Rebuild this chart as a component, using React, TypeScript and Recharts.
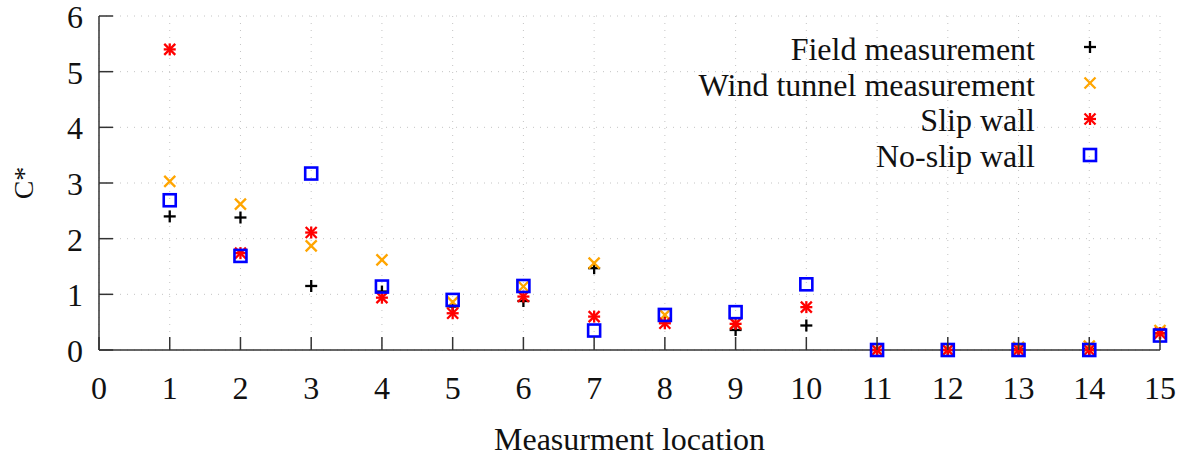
import React from 'react';
import { ScatterChart, Scatter, XAxis, YAxis, CartesianGrid, Legend } from 'recharts';

// measurement locations 1..15
const locations = [1, 2, 3, 4, 5, 6, 7, 8, 9, 10, 11, 12, 13, 14, 15];

const fieldValues = [2.4, 2.38, 1.15, 1.05, 0.78, 0.88, 1.47, 0.52, 0.36, 0.44, 0.0, 0.0, 0.01, 0.02, 0.3];
const windValues = [3.03, 2.62, 1.87, 1.62, 0.86, 1.14, 1.56, 0.63, 0.48, null, 0.0, 0.0, 0.05, 0.07, 0.35];
const slipValues = [5.4, 1.74, 2.11, 0.94, 0.66, 0.96, 0.6, 0.48, 0.47, 0.77, 0.0, 0.0, 0.0, 0.0, 0.3];
const noSlipValues = [2.69, 1.69, 3.17, 1.14, 0.9, 1.15, 0.35, 0.63, 0.68, 1.18, 0.0, 0.0, 0.0, 0.0, 0.26];

const xTicks = [0, 1, 2, 3, 4, 5, 6, 7, 8, 9, 10, 11, 12, 13, 14, 15];
const yTicks = [0, 1, 2, 3, 4, 5, 6];

const seriesNames = ['Field measurement', 'Wind tunnel measurement', 'Slip wall', 'No-slip wall'];

const toPoints = (vals: (number | null)[]) =>
  locations
    .map((x, i) => ({ x, y: vals[i] }))
    .filter(p => p.y !== null);

const FONT = '"Liberation Serif", "Times New Roman", serif';
const AXIS = '#333';

// gnuplot style point types
const Plus = ({ cx, cy, color = '#000' }: any) => (
  <g stroke={color} strokeWidth={2.3}>
    <line x1={cx - 6} y1={cy} x2={cx + 6} y2={cy} />
    <line x1={cx} y1={cy - 6} x2={cx} y2={cy + 6} />
  </g>
);

const Cross = ({ cx, cy, color = '#ffa500' }: any) => (
  <g stroke={color} strokeWidth={2.3}>
    <line x1={cx - 5.5} y1={cy - 5.5} x2={cx + 5.5} y2={cy + 5.5} />
    <line x1={cx - 5.5} y1={cy + 5.5} x2={cx + 5.5} y2={cy - 5.5} />
  </g>
);

const Star = ({ cx, cy }: any) => (
  <g>
    <Plus cx={cx} cy={cy} color="#ff0000" />
    <Cross cx={cx} cy={cy} color="#ff0000" />
  </g>
);

const Box = ({ cx, cy }: any) => (
  <rect x={cx - 6} y={cy - 6} width={12} height={12} fill="none" stroke="#0000ff" strokeWidth={2.6} />
);

const markers = [Plus, Cross, Star, Box];

const BottomTick = ({ x, y, payload }: any) => (
  <g>
    <line x1={x} y1={y} x2={x} y2={y - 13} stroke={AXIS} strokeWidth={1.5} />
    <text x={x} y={y + 49} textAnchor="middle" fontFamily={FONT} fontSize={32} fill="#111">
      {payload.value}
    </text>
  </g>
);

const TopTick = ({ x, y }: any) => (
  <line x1={x} y1={y} x2={x} y2={y + 13} stroke={AXIS} strokeWidth={1.5} />
);

const LeftTick = ({ x, y, payload }: any) => (
  <g>
    <line x1={x} y1={y} x2={x + 14} y2={y} stroke={AXIS} strokeWidth={1.5} />
    <text x={x - 16} y={y + 12} textAnchor="end" fontFamily={FONT} fontSize={32} fill="#111">
      {payload.value}
    </text>
  </g>
);

const RightTick = ({ x, y }: any) => (
  <line x1={x} y1={y} x2={x - 14} y2={y} stroke={AXIS} strokeWidth={1.5} />
);

const KeyBox = () => (
  <svg width={500} height={144} style={{ display: 'block' }}>
    {seriesNames.map((name, i) => {
      const M = markers[i];
      return (
        <g key={name}>
          <text x={435} y={29 + i * 35.7} textAnchor="end" fontFamily={FONT} fontSize={32} fill="#111">
            {name}
          </text>
          <M cx={490} cy={16 + i * 36} />
        </g>
      );
    })}
  </svg>
);

const App: React.FC = () => {
  const series = [fieldValues, windValues, slipValues, noSlipValues];

  return (
    <div style={{ position: 'absolute', left: 0, top: 0, background: '#fff' }}>
      <ScatterChart width={1187} height={458} margin={{ top: 16, right: 27, bottom: 0, left: 0 }}>
        <CartesianGrid stroke="#c4c4c4" strokeDasharray="1 6" />
        <XAxis
          type="number"
          dataKey="x"
          domain={[0, 15]}
          ticks={xTicks}
          height={108}
          tickSize={0}
          tickMargin={0}
          tick={<BottomTick />}
          axisLine={{ stroke: AXIS, strokeWidth: 1.5 }}
          label={{ value: 'Measurment location', position: 'insideBottom', offset: 8, fontFamily: FONT, fontSize: 32, fill: '#111' }}
        />
        <XAxis
          xAxisId="top"
          orientation="top"
          type="number"
          dataKey="x"
          domain={[0, 15]}
          ticks={xTicks}
          height={0}
          tickSize={0}
          tickMargin={0}
          tick={<TopTick />}
          axisLine={{ stroke: AXIS, strokeWidth: 1.5 }}
        />
        <YAxis
          type="number"
          dataKey="y"
          domain={[0, 6]}
          ticks={yTicks}
          width={99}
          tickSize={0}
          tickMargin={0}
          tick={<LeftTick />}
          axisLine={{ stroke: AXIS, strokeWidth: 1.5 }}
          label={{
            content: (props: any) => {
              const vb = props.viewBox;
              const cx = vb.x + 33;
              const cy = vb.y + vb.height / 2;
              return (
                <text transform={`translate(${cx},${cy}) rotate(-90)`} textAnchor="middle" fontFamily={FONT} fontSize={28} fill="#111">
                  C*
                </text>
              );
            },
          }}
        />
        <YAxis
          yAxisId="right"
          orientation="right"
          type="number"
          dataKey="y"
          domain={[0, 6]}
          ticks={yTicks}
          width={0}
          tickSize={0}
          tickMargin={0}
          tick={<RightTick />}
          axisLine={{ stroke: AXIS, strokeWidth: 1.5 }}
        />
        <Legend
          layout="horizontal"
          verticalAlign="middle"
          align="center"
          wrapperStyle={{ left: 600, top: 31, width: 500 }}
          content={() => <KeyBox />}
        />
        {series.map((vals, i) => {
          const M = markers[i];
          return (
            <Scatter
              key={seriesNames[i]}
              name={seriesNames[i]}
              data={toPoints(vals)}
              shape={(p: any) => <M cx={p.cx} cy={p.cy} />}
              isAnimationActive={false}
            />
          );
        })}
      </ScatterChart>
    </div>
  );
};

export default App;
